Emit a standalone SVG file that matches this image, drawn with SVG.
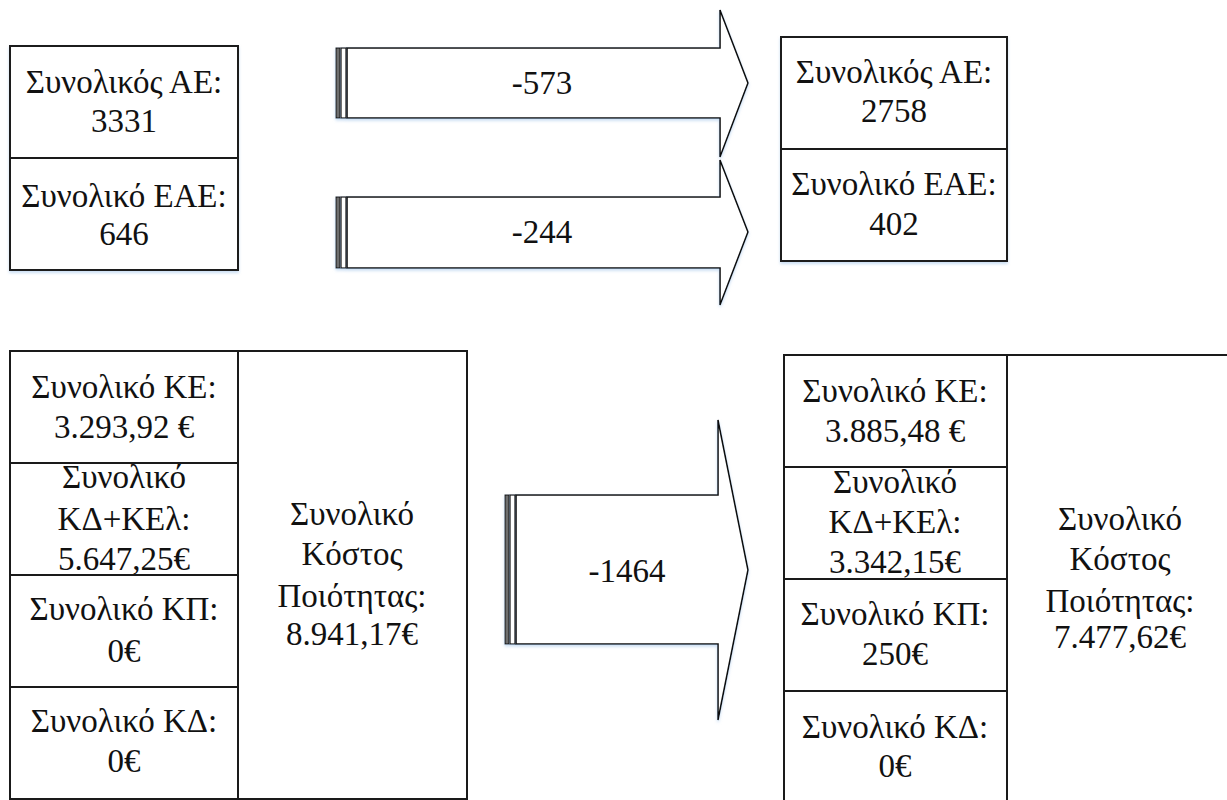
<svg xmlns="http://www.w3.org/2000/svg" width="1227" height="800" viewBox="0 0 1227 800">
<style>
.box{fill:#fff;stroke:#1a1a1a;stroke-width:2}
.ln{stroke:#1a1a1a;stroke-width:2;fill:none}
.arr{fill:#fff;stroke:#111;stroke-width:1.6;stroke-linejoin:miter}
.bar1{fill:#6e6e6e;stroke:#111;stroke-width:1}
.bar2{fill:#fff;stroke:#111;stroke-width:1.2}
text{font-family:"Liberation Serif","Times New Roman",serif;font-size:33px;fill:#111;text-anchor:middle}
</style>
<defs>
<filter id="sh" x="-5%" y="-5%" width="110%" height="115%">
<feDropShadow dx="0" dy="2" stdDeviation="1.5" flood-color="#9fc2ea" flood-opacity="0.55"/>
</filter>
</defs>
<rect width="1227" height="800" fill="#fff"/>

<g id="connectors">
<g id="arrow1" filter="url(#sh)">
<rect class="bar1" x="336" y="48" width="4" height="70"/>
<rect class="bar2" x="341" y="48" width="5" height="70"/>
<polygon class="arr" points="347,48 720,48 720,10 748,83 720,157 720,118 347,118"/>
</g>
<g id="arrow2" filter="url(#sh)">
<rect class="bar1" x="336" y="197" width="4" height="71"/>
<rect class="bar2" x="341" y="197" width="5" height="71"/>
<polygon class="arr" points="347,197 720,197 720,160 748,232 720,305 720,268 347,268"/>
</g>
<g id="arrow3" filter="url(#sh)">
<rect class="bar1" x="505" y="495" width="4" height="149"/>
<rect class="bar2" x="510" y="495" width="5" height="149"/>
<polygon class="arr" points="516,495 718,495 718,420 748,570 718,720 718,644 516,644"/>
</g>
<text x="542" y="94">-573</text>
<text x="542" y="243">-244</text>
<text x="627" y="582">-1464</text>
</g>

<g id="before-top">
<rect class="box" x="10" y="46" width="228" height="224" filter="url(#sh)"/>
<line class="ln" x1="10" y1="158" x2="238" y2="158"/>
<text x="124" y="93">Συνολικός ΑΕ:</text>
<text x="124" y="132">3331</text>
<text x="124" y="207">Συνολικό ΕΑΕ:</text>
<text x="124" y="245">646</text>
</g>

<g id="after-top">
<rect class="box" x="781" y="37" width="226" height="224" filter="url(#sh)"/>
<line class="ln" x1="781" y1="149" x2="1007" y2="149"/>
<text x="894" y="83">Συνολικός ΑΕ:</text>
<text x="894" y="122">2758</text>
<text x="894" y="195">Συνολικό ΕΑΕ:</text>
<text x="894" y="235">402</text>
</g>

<g id="before-cost">
<rect class="box" x="10" y="351" width="457" height="448"/>
<line class="ln" x1="238" y1="351" x2="238" y2="799"/>
<line class="ln" x1="10" y1="463" x2="238" y2="463"/>
<line class="ln" x1="10" y1="575" x2="238" y2="575"/>
<line class="ln" x1="10" y1="687" x2="238" y2="687"/>
<text x="124" y="398">Συνολικό ΚΕ:</text>
<text x="124" y="438">3.293,92 €</text>
<text x="124" y="488">Συνολικό</text>
<text x="124" y="530">ΚΔ+ΚΕλ:</text>
<text x="124" y="570">5.647,25€</text>
<text x="124" y="620">Συνολικό ΚΠ:</text>
<text x="124" y="662">0€</text>
<text x="124" y="732">Συνολικό ΚΔ:</text>
<text x="124" y="772">0€</text>
<text x="352" y="525">Συνολικό</text>
<text x="352" y="565">Κόστος</text>
<text x="352" y="607">Ποιότητας:</text>
<text x="352" y="645">8.941,17€</text>
</g>

<g id="after-cost">
<rect class="box" x="784" y="355" width="450" height="450"/>
<line class="ln" x1="1007" y1="355" x2="1007" y2="805"/>
<line class="ln" x1="784" y1="467" x2="1007" y2="467"/>
<line class="ln" x1="784" y1="579" x2="1007" y2="579"/>
<line class="ln" x1="784" y1="691" x2="1007" y2="691"/>
<text x="895" y="402">Συνολικό ΚΕ:</text>
<text x="895" y="442">3.885,48 €</text>
<text x="895" y="493">Συνολικό</text>
<text x="895" y="533">ΚΔ+ΚΕλ:</text>
<text x="895" y="573">3.342,15€</text>
<text x="895" y="625">Συνολικό ΚΠ:</text>
<text x="895" y="665">250€</text>
<text x="895" y="738">Συνολικό ΚΔ:</text>
<text x="895" y="777">0€</text>
<text x="1120" y="530">Συνολικό</text>
<text x="1120" y="570">Κόστος</text>
<text x="1120" y="612">Ποιότητας:</text>
<text x="1120" y="648">7.477,62€</text>
</g>
</svg>
